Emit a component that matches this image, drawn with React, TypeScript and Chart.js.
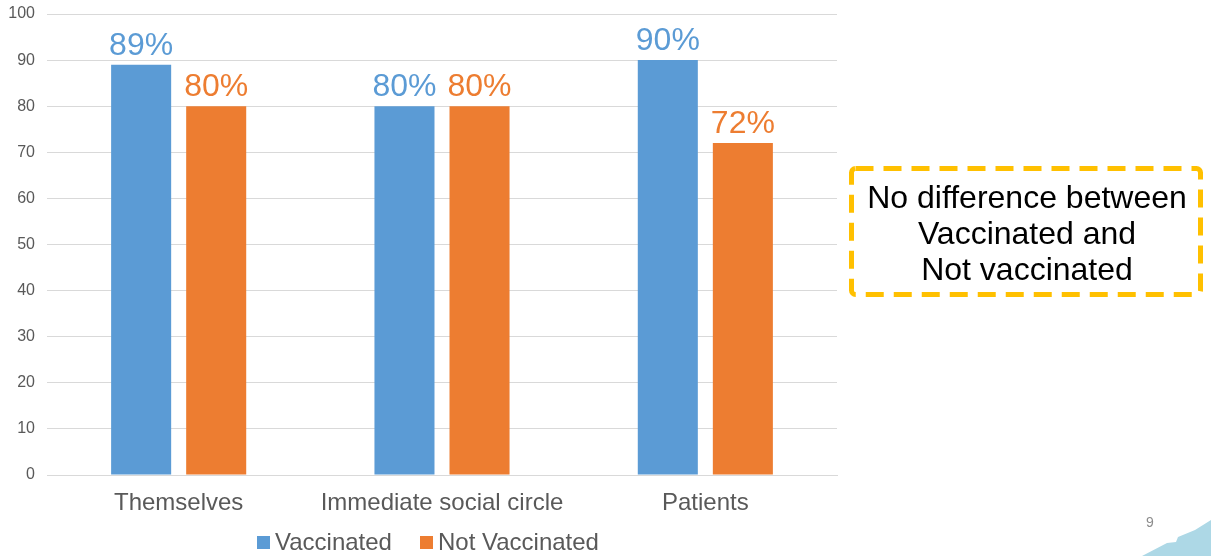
import React, { useEffect, useRef } from "react";
import { Chart, registerables } from "chart.js";

Chart.register(...registerables);

const categories = ["Themselves", "Immediate social circle", "Patients"];
const vaccinated = [89, 80, 90];
const notVaccinated = [80, 80, 72];
const seriesNames = ["Vaccinated", "Not Vaccinated"];
const seriesColors = ["#5B9BD5", "#ED7D31"];
const noteLines = ["No difference between", "Vaccinated and", "Not vaccinated"];
const pageNumber = "9";

const FONT = "'Liberation Sans', Arial, sans-serif";

const labelPlugin = {
  id: "barLabels",
  afterDatasetsDraw(chart: any) {
    const ctx = chart.ctx;
    ctx.save();
    ctx.font = `32px ${FONT}`;
    ctx.textAlign = "center";
    ctx.textBaseline = "bottom";
    chart.data.datasets.forEach((ds: any, i: number) => {
      const meta = chart.getDatasetMeta(i);
      ctx.fillStyle = ds.backgroundColor;
      meta.data.forEach((bar: any, j: number) => {
        ctx.fillText(`${ds.data[j]}%`, bar.x, bar.y - 3);
      });
    });
    ctx.restore();
  },
};

export default function App() {
  const ref = useRef<HTMLCanvasElement>(null);
  useEffect(() => {
    const chart = new Chart(ref.current!, {
      type: "bar",
      data: {
        labels: categories,
        datasets: [
          { label: seriesNames[0], data: vaccinated, backgroundColor: seriesColors[0] },
          { label: seriesNames[1], data: notVaccinated, backgroundColor: seriesColors[1] },
        ],
      },
      options: {
        animation: false,
        responsive: false,
        devicePixelRatio: 1,
        layout: { padding: { top: 14, right: 374, left: 0, bottom: 0 } },
        datasets: { bar: { barPercentage: 0.8, categoryPercentage: 0.57 } },
        plugins: { legend: { display: false }, tooltip: { enabled: false } },
        scales: {
          x: {
            grid: { display: false, drawTicks: false },
            border: { display: true, color: "#D9D9D9" },
            ticks: { color: "#595959", font: { size: 24, family: FONT }, padding: 14 },
            afterFit: (s: any) => { s.height = 81; s.paddingLeft = 0; s.paddingRight = 0; },
          },
          y: {
            min: 0,
            max: 100,
            ticks: { stepSize: 10, color: "#595959", font: { size: 16, family: FONT }, padding: 12 },
            grid: { color: "#D9D9D9", drawTicks: false },
            border: { display: false },
            afterFit: (s: any) => { s.width = 47; s.paddingTop = 0; s.paddingBottom = 0; },
          },
        },
      },
      plugins: [labelPlugin],
    });
    return () => chart.destroy();
  }, []);

  return (
    <div style={{ position: "absolute", left: 0, top: 0, width: 1211, height: 556, background: "#fff", fontFamily: FONT, overflow: "hidden" }}>
      <canvas ref={ref} width={1211} height={556} style={{ position: "absolute", left: 0, top: 0 }} />
      <div style={{ position: "absolute", left: 257, top: 528, height: 28, display: "flex", alignItems: "center", fontSize: 24, color: "#595959", whiteSpace: "nowrap" }}>
        <span style={{ width: 13, height: 13, background: seriesColors[0], display: "inline-block", marginRight: 5 }} />
        <span>{seriesNames[0]}</span>
        <span style={{ width: 13, height: 13, background: seriesColors[1], display: "inline-block", marginLeft: 28, marginRight: 5 }} />
        <span>{seriesNames[1]}</span>
      </div>
      <svg width={1211} height={556} style={{ position: "absolute", left: 0, top: 0, pointerEvents: "none" }}>
        <rect x={851.5} y={168.5} width={349} height={126} rx={4} fill="none" stroke="#FFC000" strokeWidth={5} strokeDasharray="18 10" />
        <path d="M1142,556 L1167,543 L1176,542 L1178,537 L1195,530 L1211,520 L1211,556 Z" fill="#ADD8E6" />
      </svg>
      <div style={{ position: "absolute", left: 851, top: 179, width: 352, textAlign: "center", fontSize: 32, lineHeight: "36px", color: "#000" }}>
        {noteLines.map((l, i) => <div key={i}>{l}</div>)}
      </div>
      <div style={{ position: "absolute", left: 1146, top: 514, fontSize: 14, color: "#8C8C8C" }}>{pageNumber}</div>
    </div>
  );
}
